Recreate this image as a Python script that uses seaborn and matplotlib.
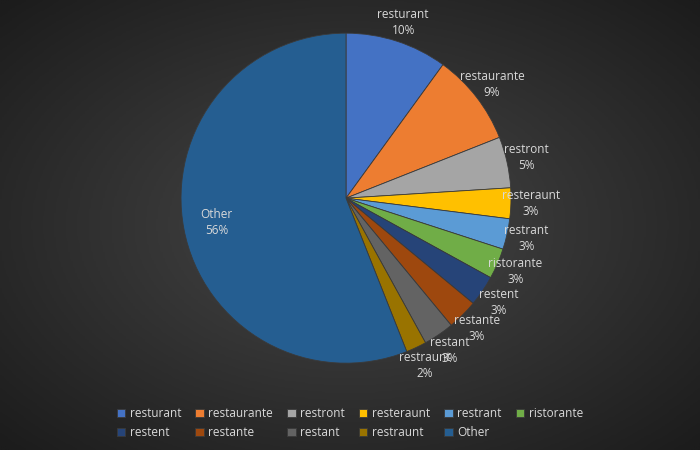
import numpy as np
import matplotlib.pyplot as plt
import seaborn as sns

sns.set_theme(style="dark")
plt.rcParams["font.family"] = ["Open Sans", "DejaVu Sans"]

# data
names = ["resturant", "restaurante", "restront", "resteraunt", "restrant",
         "ristorante", "restent", "restante", "restant", "restraunt", "Other"]
shares = [10, 9, 5, 3, 3, 3, 3, 3, 3, 2, 56]
colors = ["#4472C4", "#ED7D31", "#A5A5A5", "#FFC000", "#5B9BD5", "#70AD47",
          "#264478", "#9E480E", "#636363", "#997300", "#255E91"]
txt = "#D9D9D9"

fig = plt.figure(figsize=(7, 4.5), dpi=100)

# radial dark background
bg = fig.add_axes([0, 0, 1, 1])
yy, xx = np.mgrid[-1:1:300j, -1:1:300j]
rr = np.sqrt(xx**2 + yy**2)
bg.imshow(rr, cmap=sns.blend_palette(["#474747", "#1c1c1c"], as_cmap=True),
          extent=[0, 1, 0, 1], aspect="auto", vmin=0, vmax=1.4)
bg.axis("off")

ax = fig.add_axes([0.2586, 0.193, 0.4714, 0.7333])
wedges, _ = ax.pie(shares, colors=colors, startangle=90, counterclock=False,
                   radius=1, wedgeprops=dict(linewidth=0.6, edgecolor="#3a3a3a"))
ax.set_xlim(-1, 1)
ax.set_ylim(-1, 1)
ax.set_aspect("equal")

for w, n, s in zip(wedges, names, shares):
    ang = np.deg2rad((w.theta1 + w.theta2) / 2)
    d = 0.8 if n == "Other" else 1.12
    ax.text(d * np.cos(ang), d * np.sin(ang), f"{n}\n{s}%", ha="center", va="center",
            color=txt, fontsize=8.5, linespacing=1.3)

# legend rows fill left to right like the reference
order = [0, 6, 1, 7, 2, 8, 3, 9, 4, 10, 5]
fig.legend([wedges[i] for i in order], [names[i] for i in order],
           loc="lower center", bbox_to_anchor=(0.5, 0.0), ncol=6,
           frameon=False, fontsize=8.5, labelcolor=txt, handlelength=0.7,
           handleheight=0.7, columnspacing=1.2, handletextpad=0.4)

fig.savefig("out.png", dpi=100)
